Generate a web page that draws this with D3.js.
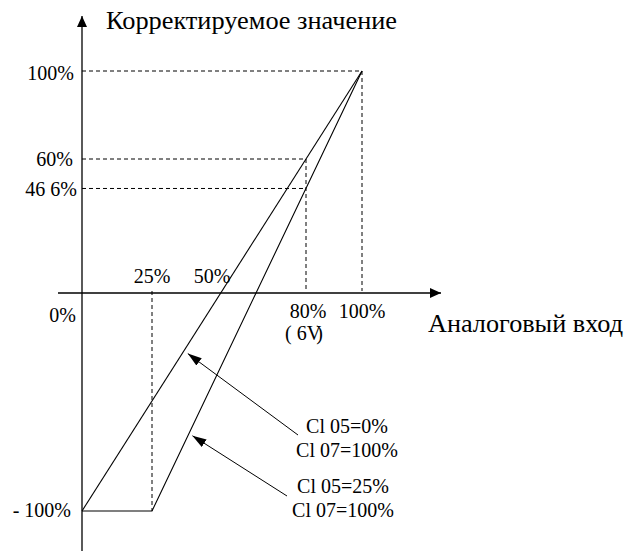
<!DOCTYPE html>
<html>
<head>
<meta charset="utf-8">
<script src="https://cdn.jsdelivr.net/npm/d3@7"></script>
<style>
  html, body { margin: 0; padding: 0; background: #fff; }
  svg text { font-family: "Liberation Serif", "Times New Roman", serif; fill: #000; }
</style>
</head>
<body>
<svg id="chart" width="625" height="551"></svg>
<script>
// Analog input (%) vs corrected value (%)
const yAxisTitle = "Корректируемое значение";
const xAxisTitle = "Аналоговый вход";

// Characteristic curves: [input %, output %]
const curveA = [[0, -100], [100, 100]];             // C1 05=0%, C1 07=100%
const curveB = [[0, -100], [25, -100], [100, 100]]; // C1 05=25%, C1 07=100%

// Tick labels on the axes
const xTickValues = [25, 50, 80, 100];
const xTickLabels = ["25%", "50%", "80%", "100%"];
const yTickValues = [100, 60, 46.6, 0, -100];
const yTickLabels = ["100%", "60%", "46 6%", "0%", "- 100%"];
const xSubLabel = "( 6V";

// Curve annotations: text lines and the input % where each arrow points
const noteA = ["Cl 05=0%", "Cl 07=100%"];
const noteB = ["Cl 05=25%", "Cl 07=100%"];
const noteAInput = 36;
const noteBInput = 38;

const svg = d3.select("#chart");
const x = d3.scaleLinear().domain([0, 100]).range([82, 362]);
const y = d3.scaleLinear().domain([-100, 100]).range([511, 71]);

const defs = svg.append("defs");
function marker(id, len, half) {
  defs.append("marker")
    .attr("id", id)
    .attr("viewBox", `0 0 ${len} ${half * 2}`)
    .attr("refX", len).attr("refY", half)
    .attr("markerWidth", len).attr("markerHeight", half * 2)
    .attr("markerUnits", "userSpaceOnUse")
    .attr("orient", "auto")
    .append("path").attr("d", `M0,0 L${len},${half} L0,${half * 2} Z`).attr("fill", "#000");
}
marker("axisHead", 11, 5);
marker("noteHead", 14, 4.5);

const line = d3.line().x(d => x(d[0])).y(d => y(d[1]));

// Dashed guide lines
const guides = svg.append("g")
  .attr("fill", "none").attr("stroke", "#000")
  .attr("stroke-width", 1).attr("stroke-dasharray", "4,3");
guides.append("path").attr("d", line([[0, 100], [100, 100], [100, 0]]));
guides.append("path").attr("d", line([[0, 60], [80, 60], [80, 0]]));
guides.append("path").attr("d", line([[0, 46.6], [80, 46.6]]));
guides.append("path").attr("d", line([[25, 0], [25, -100]]));

// Axes
const axisY = y(0) + 2;
const axes = svg.append("g").attr("stroke", "#000").attr("stroke-width", 1.3);
axes.append("line")
  .attr("x1", x(0)).attr("x2", x(0))
  .attr("y1", 551).attr("y2", 16)
  .attr("marker-end", "url(#axisHead)");
axes.append("line")
  .attr("x1", x(0) - 24).attr("x2", 441)
  .attr("y1", axisY).attr("y2", axisY)
  .attr("marker-end", "url(#axisHead)");

// Curves
const curveAt = (c, v) => {
  // output value of a curve at a given input %
  for (let i = 1; i < c.length; i++) {
    if (v <= c[i][0]) {
      const [x0, y0] = c[i - 1], [x1, y1] = c[i];
      return y0 + (y1 - y0) * (v - x0) / (x1 - x0);
    }
  }
  return c[c.length - 1][1];
};
[curveA, curveB].forEach(c => {
  svg.append("path").attr("d", line(c))
    .attr("fill", "none").attr("stroke", "#000").attr("stroke-width", 1.1);
});

// Y tick labels
const yOffsets = { "100%": [-8, 9], "60%": [-9, 7], "46 6%": [-5, 8], "0%": [-6, 31], "- 100%": [-11, 6] };
yTickValues.forEach((v, i) => {
  const lab = yTickLabels[i];
  const off = yOffsets[lab];
  svg.append("text")
    .attr("x", x(0) + off[0]).attr("y", y(v) + off[1])
    .attr("text-anchor", "end")
    .attr("font-size", 20)
    .text(lab);
});

// X tick labels
xTickValues.forEach((v, i) => {
  const below = v >= 80;
  let cx = x(v);
  if (v === 50) cx = x(v) - 10;
  if (v === 80) cx = x(v) + 2;
  svg.append("text")
    .attr("x", cx).attr("y", below ? axisY + 25 : axisY - 10)
    .attr("text-anchor", "middle")
    .attr("font-size", 20)
    .text(xTickLabels[i]);
});
const sub = svg.append("text")
  .attr("x", x(80) - 2).attr("y", axisY + 47)
  .attr("text-anchor", "middle")
  .attr("font-size", 20);
sub.append("tspan").text(xSubLabel);
sub.append("tspan").attr("dx", -5).text(")");

// Axis titles
svg.append("text").attr("x", 106).attr("y", 29)
  .attr("font-size", 25)
  .attr("textLength", 291).attr("lengthAdjust", "spacingAndGlyphs")
  .text(yAxisTitle);
svg.append("text").attr("x", 428).attr("y", 332)
  .attr("font-size", 25)
  .attr("textLength", 195).attr("lengthAdjust", "spacingAndGlyphs")
  .text(xAxisTitle);

// Annotation arrows pointing at the curves
const ann = svg.append("g").attr("stroke", "#000").attr("stroke-width", 1);
ann.append("line").attr("x1", 298).attr("y1", 435)
  .attr("x2", x(noteAInput) + 5).attr("y2", y(curveAt(curveA, noteAInput)) + 1)
  .attr("marker-end", "url(#noteHead)");
ann.append("line").attr("x1", 287).attr("y1", 496)
  .attr("x2", x(noteBInput) + 4).attr("y2", y(curveAt(curveB, noteBInput)) + 1)
  .attr("marker-end", "url(#noteHead)");

// Annotation text
function note(lines, cx, y0) {
  lines.forEach((t, i) => {
    svg.append("text").attr("x", cx).attr("y", y0 + i * 24)
      .attr("text-anchor", "middle").attr("font-size", 20).text(t);
  });
}
note(noteA, 347, 433);
note(noteB, 343, 493);
</script>
</body>
</html>
